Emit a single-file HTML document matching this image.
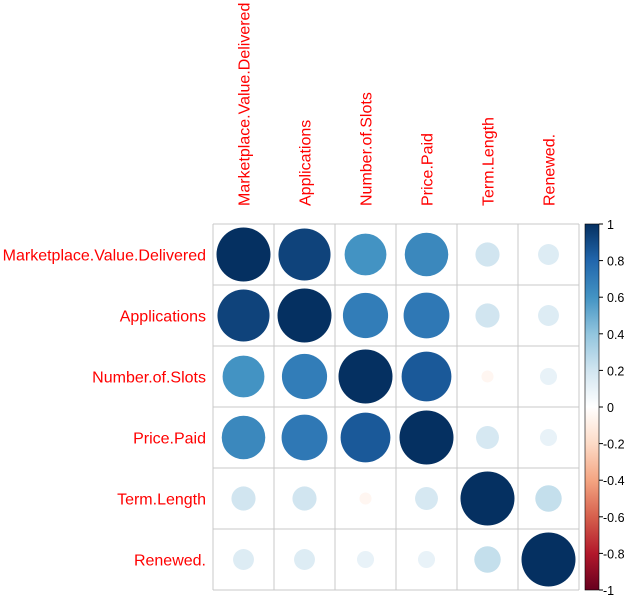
<!DOCTYPE html>
<html><head><meta charset="utf-8"><style>
html,body{margin:0;padding:0;background:#fff;}
svg{display:block;font-family:"Liberation Sans",Arial,sans-serif;}
</style></head><body>
<svg id="chart" width="639" height="603" viewBox="0 0 639 603">
<defs><linearGradient id="cbgrad" x1="0" y1="1" x2="0" y2="0">
<stop offset="0" stop-color="#67001F"/><stop offset="0.1" stop-color="#B2182B"/><stop offset="0.2" stop-color="#D6604D"/><stop offset="0.3" stop-color="#F4A582"/><stop offset="0.4" stop-color="#FDDBC7"/><stop offset="0.5" stop-color="#FFFFFF"/><stop offset="0.6" stop-color="#D1E5F0"/><stop offset="0.7" stop-color="#92C5DE"/><stop offset="0.8" stop-color="#4393C3"/><stop offset="0.9" stop-color="#2166AC"/><stop offset="1" stop-color="#053061"/>
</linearGradient></defs>
</svg>
<script>
const variables = ["Marketplace.Value.Delivered","Applications","Number.of.Slots","Price.Paid","Term.Length","Renewed."];
const corrRow1 = [1, 0.93, 0.6, 0.65, 0.2, 0.15];
const corrRow2 = [0.93, 1, 0.7, 0.72, 0.2, 0.15];
const corrRow3 = [0.6, 0.7, 1, 0.85, -0.05, 0.1];
const corrRow4 = [0.65, 0.72, 0.85, 1, 0.18, 0.1];
const corrRow5 = [0.2, 0.2, -0.05, 0.18, 1, 0.24];
const corrRow6 = [0.15, 0.15, 0.1, 0.1, 0.24, 1];
const corr = [corrRow1, corrRow2, corrRow3, corrRow4, corrRow5, corrRow6];
const colorbarTicks = [1,0.8,0.6,0.4,0.2,0,-0.2,-0.4,-0.6,-0.8,-1];

const NS = "http://www.w3.org/2000/svg";
const svg = document.getElementById('chart');
const gx0 = 213, gy0 = 224, cell = 61, n = variables.length;
const cx = i => gx0 + cell*i + cell/2;
const cy = j => gy0 + cell*j + cell/2;
const rad = v => 27*Math.sqrt(Math.abs(v));
const pal = ["#67001F","#B2182B","#D6604D","#F4A582","#FDDBC7","#FFFFFF","#D1E5F0","#92C5DE","#4393C3","#2166AC","#053061"];
function col(v){
  const t = (v+1)/2*10; const i = Math.min(9, Math.floor(t)); const f = t - i;
  const a = pal[i], b = pal[i+1];
  const p = (h,k)=>parseInt(h.substr(1+2*k,2),16);
  const c = [0,1,2].map(k=>Math.round(p(a,k)+(p(b,k)-p(a,k))*f));
  return `rgb(${c.join(',')})`;
}
function mk(tag, attrs){ const e = document.createElementNS(NS, tag); for (const k in attrs) e.setAttribute(k, attrs[k]); svg.appendChild(e); return e; }

for (let k=0;k<=n;k++){
  const v = mk('line',{x1:gx0+cell*k,y1:gy0,x2:gx0+cell*k,y2:gy0+cell*n,stroke:'#c8c8c8','stroke-width':1});
  
  
  const h = mk('line',{x1:gx0,y1:gy0+cell*k,x2:gx0+cell*n,y2:gy0+cell*k,stroke:'#c8c8c8','stroke-width':1});
  
  
}
for (let j=0;j<n;j++) for (let i=0;i<n;i++){
  const v = corr[j][i];
  const c = mk('circle',{cx:cx(i),cy:cy(j),r:rad(v),fill:col(v)});
  
  
}
variables.forEach((name,k)=>{
  const t = mk('text',{x:206,y:cy(k)+6,'text-anchor':'end','font-size':16,fill:'#ff0000'});
  t.textContent = name;
  
  
  const x = cx(k)+6;
  const c = mk('text',{x:x,y:206,'font-size':16,fill:'#ff0000',transform:`rotate(-90 ${x} 206)`});
  c.textContent = name;
  
  
});
const cbx = 585, cbw = 14, cbt = gy0, cbb = gy0+cell*n;
const bar = mk('rect',{x:cbx,y:cbt,width:cbw,height:cbb-cbt,fill:'url(#cbgrad)',stroke:'#000','stroke-width':0.6});


colorbarTicks.forEach(v=>{
  const y = cbb - (v+1)/2*(cbb-cbt);
  const tk = mk('line',{x1:cbx+cbw,y1:y,x2:cbx+cbw+4,y2:y,stroke:'#000','stroke-width':1});
  
  
  const tl = mk('text',{x:v<0?cbx+cbw+4:cbx+cbw+8,y:y+5,'font-size':12.5,fill:'#000'});
  tl.textContent = String(v);
  
  
});
</script>
</body></html>
